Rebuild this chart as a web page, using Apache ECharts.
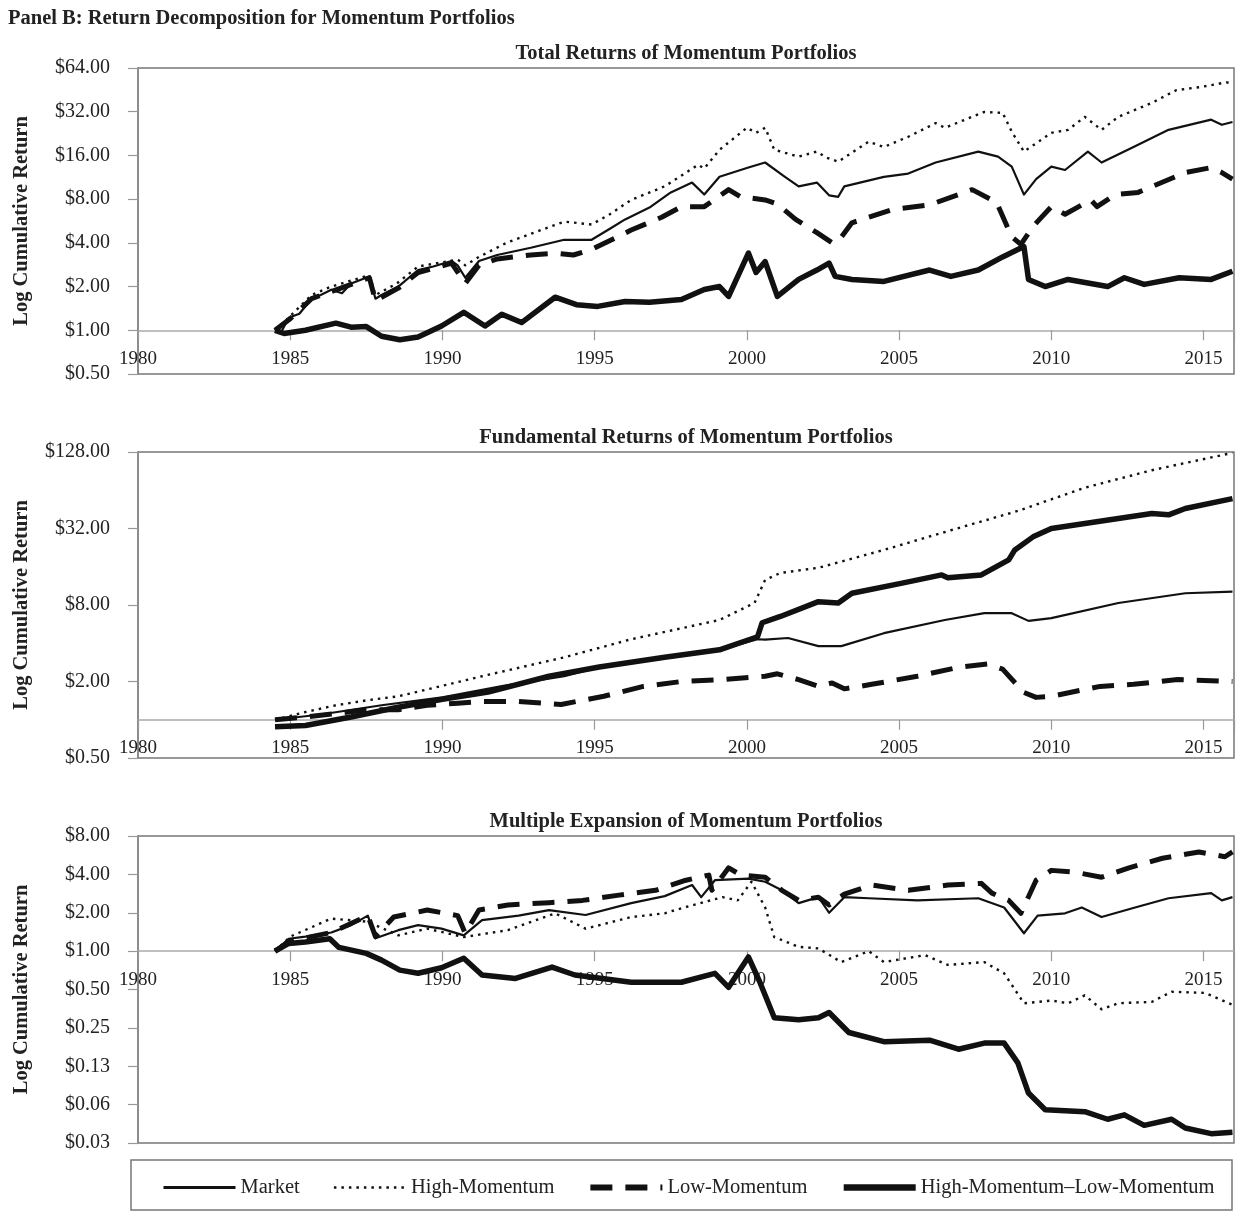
<!DOCTYPE html>
<html><head><meta charset="utf-8">
<script src="https://cdn.jsdelivr.net/npm/echarts@6/dist/echarts.min.js"></script>
<style>html,body{margin:0;padding:0;background:#fff}#c{width:1242px;height:1212px}</style>
</head><body><div id="c"></div>
<script>
// ---------- DATA: [year, cumulative return in $] ----------
const seriesNames = ['Market', 'High-Momentum', 'Low-Momentum', 'High-Momentum\u2013Low-Momentum'];
const panelTitles = ['Total Returns of Momentum Portfolios', 'Fundamental Returns of Momentum Portfolios', 'Multiple Expansion of Momentum Portfolios'];
const xTicks = [1980, 1985, 1990, 1995, 2000, 2005, 2010, 2015];

// Panel 1: Total returns
const totMarket = [[1984.5,1.0],[1984.7,0.97],[1984.95,1.22],[1985.3,1.3],[1985.7,1.65],[1986.0,1.75],[1986.35,1.9],[1986.7,1.8],[1987.0,2.1],[1987.6,2.35],[1987.8,1.65],[1988.0,1.75],[1988.55,2.0],[1989.2,2.6],[1989.7,2.75],[1990.3,3.0],[1990.5,2.8],[1990.75,2.3],[1991.2,3.0],[1991.8,3.3],[1992.9,3.7],[1994.0,4.2],[1994.9,4.2],[1995.5,5.0],[1996.0,5.8],[1996.8,7.0],[1997.5,8.9],[1998.2,10.4],[1998.6,8.6],[1999.1,11.4],[2000.05,13.2],[2000.6,14.3],[2001.25,11.4],[2001.7,9.8],[2002.3,10.4],[2002.7,8.5],[2003.0,8.3],[2003.2,9.8],[2004.5,11.4],[2005.3,12.0],[2006.2,14.3],[2007.6,17.0],[2008.25,15.7],[2008.7,13.4],[2009.1,8.6],[2009.5,11.0],[2010.0,13.4],[2010.45,12.7],[2011.2,17.0],[2011.65,14.3],[2012.7,18.3],[2013.85,24.0],[2015.25,28.2],[2015.6,26.0],[2015.95,27.2]];
const totHigh = [[1984.5,1.0],[1985.0,1.25],[1985.7,1.75],[1986.35,2.0],[1987.6,2.4],[1987.8,1.75],[1988.5,2.1],[1989.2,2.75],[1990.5,3.07],[1990.75,2.8],[1991.2,3.2],[1992.1,4.0],[1993.0,4.7],[1994.0,5.6],[1994.9,5.35],[1995.5,6.3],[1996.2,7.9],[1997.3,9.8],[1998.4,13.8],[1998.6,13.0],[1999.1,17.5],[2000.0,24.8],[2000.3,22.9],[2000.6,24.8],[2000.9,17.5],[2001.7,15.7],[2002.3,17.0],[2002.6,15.5],[2003.0,14.5],[2004.0,19.9],[2004.5,18.3],[2005.3,21.5],[2006.2,26.7],[2006.5,24.8],[2007.8,31.9],[2008.4,31.4],[2008.7,23.3],[2009.1,17.0],[2010.0,22.9],[2010.55,24.0],[2011.1,29.5],[2011.65,24.0],[2012.2,29.5],[2013.3,36.8],[2014.1,45.0],[2014.95,47.5],[2015.75,51.0],[2015.95,50.0]];
const totLow = [[1984.5,1.0],[1985.0,1.2],[1985.7,1.65],[1986.35,1.85],[1987.6,2.3],[1987.8,1.6],[1988.55,1.95],[1989.2,2.5],[1990.3,2.9],[1990.75,2.1],[1991.2,2.8],[1991.8,3.1],[1992.9,3.3],[1993.7,3.4],[1994.3,3.3],[1994.9,3.6],[1996.2,4.9],[1997.2,6.0],[1997.85,7.1],[1998.6,7.1],[1999.4,9.3],[1999.8,8.3],[2000.6,7.9],[2001.0,7.4],[2001.6,5.8],[2002.3,4.7],[2002.8,4.0],[2003.0,4.1],[2003.45,5.5],[2004.8,6.8],[2006.0,7.3],[2007.4,9.3],[2008.2,7.6],[2008.7,4.4],[2009.0,3.9],[2009.4,5.2],[2010.0,7.1],[2010.45,6.3],[2011.3,7.9],[2011.5,7.1],[2012.1,8.6],[2012.85,8.9],[2014.4,12.2],[2015.25,13.2],[2015.6,12.2],[2015.95,11.0]];
const totHL = [[1984.5,1.0],[1984.8,0.95],[1985.5,1.0],[1986.5,1.12],[1987.0,1.05],[1987.5,1.06],[1988.0,0.91],[1988.6,0.86],[1989.2,0.9],[1989.97,1.07],[1990.7,1.33],[1991.4,1.07],[1991.95,1.29],[1992.6,1.13],[1993.7,1.69],[1994.4,1.5],[1995.1,1.46],[1996.0,1.58],[1996.8,1.56],[1997.85,1.63],[1998.6,1.91],[1999.1,2.0],[1999.4,1.71],[2000.05,3.4],[2000.3,2.5],[2000.6,2.97],[2001.0,1.71],[2001.7,2.24],[2002.3,2.6],[2002.7,2.9],[2002.9,2.35],[2003.45,2.24],[2004.5,2.17],[2006.0,2.6],[2006.7,2.35],[2007.6,2.6],[2008.4,3.2],[2009.1,3.77],[2009.25,2.24],[2009.8,2.0],[2010.55,2.24],[2011.85,2.0],[2012.4,2.3],[2013.05,2.07],[2014.2,2.3],[2015.25,2.24],[2015.95,2.55]];

// Panel 2: Fundamental returns
const funMarket = [[1984.5,1.0],[1986.0,1.1],[1988.0,1.3],[1990.0,1.5],[1992.0,1.85],[1994.0,2.2],[1995.2,2.6],[1997.3,3.1],[1999.1,3.55],[2000.35,4.3],[2000.6,4.27],[2001.35,4.4],[2002.35,3.8],[2003.1,3.8],[2004.5,4.8],[2006.5,6.1],[2007.8,6.9],[2008.7,6.9],[2009.25,6.0],[2010.0,6.3],[2012.2,8.3],[2014.4,9.9],[2015.95,10.2]];
const funHigh = [[1984.5,1.0],[1985.5,1.15],[1986.5,1.3],[1987.5,1.42],[1988.55,1.53],[1990.0,1.85],[1991.3,2.2],[1994.0,3.1],[1996.2,4.3],[1999.1,6.1],[2000.25,8.3],[2000.6,12.6],[2001.1,14.3],[2002.35,15.7],[2004.5,21.7],[2006.7,31.0],[2008.9,44.0],[2011.1,67.0],[2013.3,92.0],[2015.95,126.0]];
const funLow = [[1984.5,1.0],[1985.5,1.05],[1986.5,1.12],[1987.5,1.2],[1988.55,1.2],[1989.5,1.3],[1990.5,1.35],[1991.3,1.39],[1992.5,1.39],[1993.9,1.32],[1995.3,1.53],[1996.6,1.83],[1997.85,2.0],[1999.2,2.07],[2000.6,2.2],[2001.0,2.3],[2001.7,2.07],[2002.35,1.83],[2002.8,1.95],[2003.2,1.75],[2004.1,1.9],[2005.6,2.2],[2007.0,2.6],[2007.9,2.75],[2008.4,2.5],[2009.1,1.64],[2009.5,1.5],[2010.0,1.53],[2011.6,1.83],[2012.7,1.9],[2014.15,2.07],[2015.95,2.0]];
const funHL = [[1984.5,0.88],[1985.5,0.9],[1987.0,1.05],[1988.5,1.25],[1990.0,1.45],[1991.5,1.65],[1993.5,2.2],[1995.15,2.6],[1997.3,3.1],[1999.1,3.55],[2000.35,4.5],[2000.5,5.8],[2001.1,6.5],[2002.35,8.5],[2003.0,8.3],[2003.45,9.9],[2005.1,11.9],[2006.4,13.8],[2006.6,13.1],[2007.7,13.8],[2008.6,18.1],[2008.8,21.7],[2009.4,27.5],[2010.0,32.0],[2013.3,42.0],[2013.85,41.0],[2014.4,46.0],[2015.95,55.0]];

// Panel 3: Multiple expansion
const mulMarket = [[1984.5,1.0],[1984.95,1.25],[1985.5,1.3],[1986.35,1.4],[1987.0,1.6],[1987.55,1.9],[1987.8,1.26],[1988.55,1.46],[1989.2,1.6],[1989.97,1.5],[1990.7,1.33],[1991.3,1.75],[1992.5,1.9],[1993.5,2.1],[1994.7,1.92],[1996.2,2.38],[1997.3,2.7],[1998.2,3.3],[1998.5,2.65],[1998.95,3.6],[2000.05,3.7],[2000.6,3.5],[2001.15,3.0],[2001.7,2.38],[2002.35,2.65],[2002.7,2.0],[2003.2,2.65],[2004.0,2.6],[2005.6,2.5],[2007.6,2.6],[2008.45,2.2],[2009.1,1.38],[2009.55,1.9],[2010.45,1.98],[2011.0,2.2],[2011.65,1.85],[2012.75,2.2],[2013.85,2.6],[2015.25,2.85],[2015.6,2.5],[2015.95,2.65]];
const mulHigh = [[1984.5,1.0],[1985.0,1.3],[1986.35,1.8],[1987.55,1.7],[1988.55,1.33],[1989.5,1.5],[1990.7,1.29],[1992.15,1.46],[1993.7,1.98],[1994.7,1.5],[1996.2,1.85],[1997.3,1.98],[1997.85,2.17],[1999.2,2.65],[1999.7,2.5],[2000.15,3.5],[2000.6,2.2],[2000.9,1.29],[2001.7,1.08],[2002.35,1.05],[2003.1,0.82],[2004.0,1.0],[2004.5,0.82],[2005.85,0.93],[2006.6,0.78],[2007.8,0.82],[2008.45,0.67],[2009.1,0.39],[2010.0,0.41],[2010.55,0.39],[2011.1,0.45],[2011.65,0.35],[2012.2,0.39],[2013.3,0.40],[2013.95,0.48],[2015.05,0.47],[2015.95,0.38]];
const mulLow = [[1984.5,1.0],[1985.0,1.2],[1986.35,1.4],[1987.55,1.9],[1987.8,1.3],[1988.4,1.85],[1989.5,2.1],[1990.5,1.9],[1990.75,1.38],[1991.2,2.1],[1992.15,2.3],[1993.5,2.4],[1994.6,2.5],[1995.8,2.75],[1997.0,3.0],[1998.0,3.6],[1998.75,3.95],[1998.85,3.0],[1999.4,4.5],[1999.8,3.95],[2000.6,3.8],[2001.15,3.0],[2001.7,2.5],[2002.35,2.65],[2002.7,2.3],[2003.2,2.8],[2004.1,3.3],[2005.3,3.0],[2006.6,3.3],[2007.7,3.4],[2008.05,2.85],[2008.6,2.5],[2009.0,1.98],[2009.5,3.6],[2010.0,4.3],[2010.8,4.15],[2011.65,3.8],[2012.55,4.5],[2013.65,5.35],[2014.85,6.0],[2015.7,5.5],[2015.95,6.0]];
const mulHL = [[1984.5,1.0],[1984.95,1.15],[1985.5,1.18],[1986.3,1.25],[1986.6,1.07],[1987.5,0.96],[1988.0,0.85],[1988.6,0.71],[1989.2,0.67],[1989.97,0.74],[1990.7,0.88],[1991.3,0.65],[1992.4,0.61],[1993.6,0.75],[1994.35,0.65],[1996.2,0.57],[1997.85,0.57],[1998.95,0.67],[1999.4,0.52],[2000.05,0.9],[2000.4,0.59],[2000.9,0.30],[2001.7,0.29],[2002.35,0.30],[2002.7,0.33],[2003.35,0.23],[2004.5,0.195],[2006.0,0.2],[2006.95,0.17],[2007.8,0.19],[2008.45,0.19],[2008.9,0.133],[2009.25,0.077],[2009.8,0.057],[2011.1,0.055],[2011.85,0.048],[2012.4,0.052],[2013.05,0.043],[2013.95,0.048],[2014.4,0.041],[2015.25,0.037],[2015.95,0.038]];

// y-axis ranges in powers of two (log2 of $), tick step in doublings
const yRanges = [{min:-1, max:6, step:1}, {min:-1, max:7, step:2}, {min:-5, max:3, step:1}];

// ---------- BUILD ----------
const FONT = '"Liberation Serif", "Times New Roman", serif';
const panelData = [[totMarket, totHigh, totLow, totHL],[funMarket, funHigh, funLow, funHL],[mulMarket, mulHigh, mulLow, mulHL]];
const grids = [{top:68, height:306},{top:452, height:306},{top:836, height:307}];
const styles = [
  {width:2.2, type:'solid', legendWidth:3},
  {width:2.4, type:[2.5,5], legendWidth:2.4},
  {width:5, type:[22,13], legendWidth:6},
  {width:5.5, type:'solid', legendWidth:6.5}
];
const log2 = v => Math.log(v) / Math.LN2;

const option = {
  animation:false,
  backgroundColor:'#fff',
  grid: grids.map(g => ({left:138, right:8, top:g.top, height:g.height, show:true, borderColor:'#777', borderWidth:1.5, containLabel:false})),
  xAxis: grids.map((g,i) => ({
    type:'value', gridIndex:i, min:xTicks[0], max:2016, interval:5,
    position:'bottom',
    // move the year axis up to the $1.00 level of this panel
    offset: -g.height * (0 - yRanges[i].min) / (yRanges[i].max - yRanges[i].min),
    axisLine:{show:true, onZero:false, lineStyle:{color:'#aaa', width:1.5}},
    axisTick:{show:true, length:10, lineStyle:{color:'#999', width:1.2}},
    axisLabel:{fontFamily:FONT, fontSize:19, color:'#222', margin:19,
      formatter: v => (xTicks.indexOf(v) >= 0 ? String(v) : '')},
    splitLine:{show:false}
  })),
  yAxis: yRanges.map((r,i) => ({
    type:'value', gridIndex:i, min:r.min, max:r.max, interval:r.step,
    name:'Log Cumulative Return', nameLocation:'middle', nameRotate:90, nameGap:106,
    nameTextStyle:{fontFamily:FONT, fontSize:20.5, fontWeight:'bold', color:'#222'},
    axisLine:{show:true, lineStyle:{color:'#888', width:1.5}},
    axisTick:{show:true, length:10, lineStyle:{color:'#999', width:1.2}},
    axisLabel:{fontFamily:FONT, fontSize:20, color:'#222', margin:28,
      formatter: v => '$' + Math.pow(2, v).toFixed(2)},
    splitLine:{show:false}
  })),
  legend: {
    left:157, top:1172, itemGap:33, itemWidth:72, itemHeight:14,
    textStyle:{fontFamily:FONT, fontSize:20.5, color:'#222'},
    itemStyle:{opacity:0},
    data: seriesNames.map((n,k) => ({name:n, itemStyle:{opacity:0}, lineStyle:{width:styles[k].legendWidth, type:styles[k].type, color:'#111'}}))
  },
  graphic: [
    {type:'text', left:8, top:8, style:{text:'Panel B: Return Decomposition for Momentum Portfolios', font:'bold 20.5px ' + FONT, fill:'#222'}},
    ...panelTitles.map((t,i) => ({type:'text', x:686, y:grids[i].top - 14, style:{text:t, font:'bold 20.5px ' + FONT, fill:'#222', textAlign:'center', textVerticalAlign:'middle'}})),
    {type:'rect', shape:{x:131, y:1160, width:1101, height:50}, style:{fill:'none', stroke:'#777', lineWidth:1.5}}
  ],
  series: []
};

panelData.forEach((arr, p) => {
  arr.forEach((d, k) => {
    option.series.push({
      name: seriesNames[k], type:'line', xAxisIndex:p, yAxisIndex:p,
      data: d.map(pt => [pt[0], log2(pt[1])]),
      symbol:'none', smooth:false,
      lineStyle:{color:'#111', width:styles[k].width, type:styles[k].type, cap:'butt', join:'round'},
      itemStyle:{color:'#111'},
      z: k === 3 ? 4 : 3
    });
  });
});

const chart = echarts.init(document.getElementById('c'), null, {renderer:'canvas'});
chart.setOption(option);
</script></body></html>
